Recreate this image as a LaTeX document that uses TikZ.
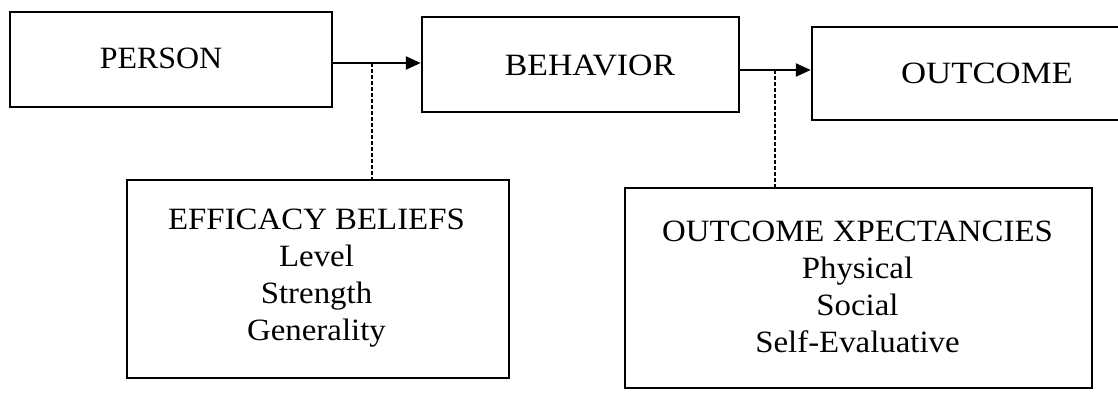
\documentclass[tikz,border=0pt]{standalone}
\usepackage{fontspec}
\setmainfont{Liberation Serif}
\newfontfamily\fstrA[FakeStretch=1.03]{Liberation Serif}
\newfontfamily\fstrB[FakeStretch=1.09]{Liberation Serif}
\newfontfamily\fstrC[FakeStretch=1.12]{Liberation Serif}
\newfontfamily\fstrD[FakeStretch=1.06]{Liberation Serif}
\usetikzlibrary{arrows.meta}
\begin{document}
\begin{tikzpicture}[x=1pt,y=-1pt,
  box/.style={draw, line width=2.5pt, inner sep=0pt},
  lbl/.style={inner sep=0pt, align=center},
  arrowline/.style={line width=2.4pt, -{Triangle[length=15pt,width=13pt]}},
  dashline/.style={line width=2.2pt, dash pattern=on 4pt off 2pt}]
\useasboundingbox (0,0) rectangle (1118,393);
\clip (0,0) rectangle (1118,393);
\fill[white] (0,0) rectangle (1118,393);
% top row
\node[box, minimum width=322pt, minimum height=95pt] (person) at (171,59.5) {};
\node[lbl, font=\fstrA\fontsize{31}{37}\selectfont] (persontext) at (161,58.5) {PERSON};
\node[box, minimum width=317pt, minimum height=95pt] (behavior) at (580.5,64.5) {};
\node[lbl, font=\fstrB\fontsize{31}{37}\selectfont] (behaviortext) at (590,65.5) {BEHAVIOR};
\node[box, minimum width=340pt, minimum height=93pt] (outcome) at (982,73.5) {};
\node[lbl, font=\fstrC\fontsize{31}{37}\selectfont] (outcometext) at (987,73) {OUTCOME};
% bottom row
\node[box, minimum width=382pt, minimum height=198pt] (eff) at (318,279) {};
\node[lbl, font=\fstrD\fontsize{31}{37}\selectfont] (efftext) at (316.5,278) {EFFICACY BELIEFS\\Level\\Strength\\Generality};
\node[box, minimum width=467pt, minimum height=200pt] (oexp) at (858.5,288) {};
\node[lbl, font=\fstrD\fontsize{31}{37}\selectfont] (oexptext) at (857.5,287) {OUTCOME XPECTANCIES\\Physical\\Social\\Self-Evaluative};
% connectors
\coordinate (a1) at (0,63);
\coordinate (a2) at (0,70);
\draw[arrowline] (person.east |- a1) -- (behavior.west |- a1);
\draw[arrowline] (behavior.east |- a2) -- (outcome.west |- a2);
\coordinate (d1) at (372,63);
\coordinate (d2) at (775,70);
\draw[dashline] (d1) -- (d1 |- eff.north);
\draw[dashline] (d2) -- (d2 |- oexp.north);
\end{tikzpicture}
\end{document}
